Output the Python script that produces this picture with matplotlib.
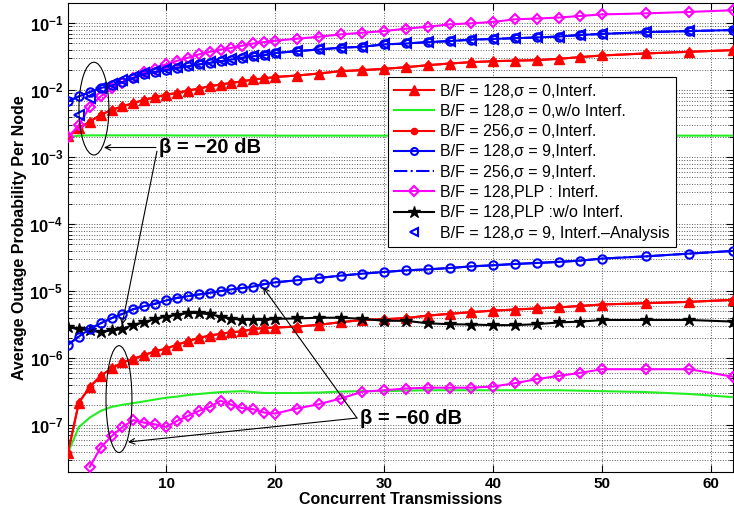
import matplotlib
matplotlib.use("Agg")
import numpy as np
import matplotlib.pyplot as plt
from matplotlib.lines import Line2D
from matplotlib.patches import Ellipse
from matplotlib.ticker import LogLocator, NullFormatter

plt.rcParams['font.family'] = ['Liberation Sans', 'DejaVu Sans']
plt.rcParams['mathtext.fontset'] = 'custom'
plt.rcParams['mathtext.rm'] = 'Liberation Sans'
plt.rcParams['mathtext.bf'] = 'Liberation Sans:bold'

# --- data ---
x = [1, 2, 3, 4, 5, 6, 7, 8, 9, 10, 11, 12, 13, 14, 15, 16, 17, 18, 19, 20,
     22, 24, 26, 28, 30, 32, 34, 36, 38, 40, 42, 44, 46, 48, 50, 54, 58, 62]

# beta = -20 dB group
red_hi = [2.04e-3, 2.7e-3, 3.4e-3, 4.3e-3, 5.1e-3, 5.75e-3, 6.45e-3, 7.2e-3, 7.85e-3, 8.6e-3,
          9.1e-3, 9.9e-3, 1.06e-2, 1.15e-2, 1.22e-2, 1.29e-2, 1.36e-2, 1.45e-2, 1.5e-2, 1.58e-2,
          1.66e-2, 1.78e-2, 1.93e-2, 2.0e-2, 2.09e-2, 2.21e-2, 2.37e-2, 2.51e-2, 2.63e-2, 2.72e-2,
          2.77e-2, 2.82e-2, 2.95e-2, 3.13e-2, 3.31e-2, 3.55e-2, 3.76e-2, 3.98e-2]
green_hi = [2.0e-3, 2.1e-3, 2.12e-3, 2.12e-3, 2.12e-3, 2.12e-3, 2.12e-3, 2.12e-3, 2.12e-3, 2.12e-3,
            2.11e-3, 2.11e-3, 2.11e-3, 2.11e-3, 2.11e-3, 2.11e-3, 2.11e-3, 2.11e-3, 2.11e-3, 2.1e-3,
            2.1e-3, 2.1e-3, 2.1e-3, 2.1e-3, 2.1e-3, 2.1e-3, 2.1e-3, 2.1e-3, 2.1e-3, 2.1e-3,
            2.1e-3, 2.1e-3, 2.1e-3, 2.1e-3, 2.1e-3, 2.1e-3, 2.1e-3, 2.1e-3]
blue_hi = [6.8e-3, 8.1e-3, 9.4e-3, 1.08e-2, 1.18e-2, 1.32e-2, 1.52e-2, 1.76e-2, 1.88e-2, 2.0e-2,
           2.16e-2, 2.29e-2, 2.43e-2, 2.57e-2, 2.72e-2, 2.88e-2, 3.06e-2, 3.23e-2, 3.35e-2, 3.6e-2,
           3.84e-2, 4.07e-2, 4.32e-2, 4.47e-2, 4.84e-2, 5.0e-2, 5.24e-2, 5.43e-2, 5.7e-2, 5.85e-2,
           6.0e-2, 6.15e-2, 6.35e-2, 6.7e-2, 6.95e-2, 7.4e-2, 7.67e-2, 7.94e-2]
plp_hi = [2.0e-3, 3.0e-3, 5.7e-3, 8.1e-3, 1.08e-2, 1.3e-2, 1.55e-2, 1.85e-2, 2.1e-2, 2.45e-2,
          2.75e-2, 3.06e-2, 3.43e-2, 3.75e-2, 4.05e-2, 4.3e-2, 4.65e-2, 5.0e-2, 5.25e-2, 5.5e-2,
          5.89e-2, 6.3e-2, 6.84e-2, 7.24e-2, 7.67e-2, 8.32e-2, 8.9e-2, 9.66e-2, 0.1, 0.105,
          0.115, 0.118, 0.122, 0.129, 0.136, 0.141, 0.148, 0.157]
x_ana = x[1:]
ana_hi = [4.2e-3, 7.7e-3, 1.08e-2, 1.25e-2, 1.4e-2, 1.6e-2, 1.8e-2, 1.95e-2, 2.1e-2,
          2.22e-2, 2.36e-2, 2.5e-2, 2.65e-2, 2.8e-2, 2.95e-2, 3.1e-2, 3.25e-2, 3.4e-2, 3.6e-2,
          3.85e-2, 4.1e-2, 4.35e-2, 4.5e-2, 4.85e-2, 5.0e-2, 5.25e-2, 5.45e-2, 5.7e-2, 5.85e-2,
          6.0e-2, 6.15e-2, 6.35e-2, 6.7e-2, 6.95e-2, 7.35e-2, 7.65e-2, 7.9e-2]

# beta = -60 dB group
red_lo = [3.85e-8, 2.16e-7, 3.7e-7, 5.4e-7, 7.0e-7, 8.6e-7, 9.7e-7, 1.11e-6, 1.26e-6, 1.38e-6,
          1.58e-6, 1.78e-6, 2.0e-6, 2.16e-6, 2.3e-6, 2.43e-6, 2.5e-6, 2.72e-6, 2.8e-6, 2.85e-6,
          2.95e-6, 3.13e-6, 3.43e-6, 3.7e-6, 3.8e-6, 3.95e-6, 4.3e-6, 4.57e-6, 4.84e-6, 5.1e-6,
          5.3e-6, 5.5e-6, 5.7e-6, 6.0e-6, 6.3e-6, 6.6e-6, 6.9e-6, 7.4e-6]
green_lo = [3.85e-8, 9.3e-8, 1.29e-7, 1.62e-7, 1.86e-7, 2.0e-7, 2.12e-7, 2.25e-7, 2.4e-7, 2.55e-7,
            2.65e-7, 2.8e-7, 2.9e-7, 3.0e-7, 3.1e-7, 3.15e-7, 3.2e-7, 3.1e-7, 3.0e-7, 3.0e-7,
            3.0e-7, 3.05e-7, 3.15e-7, 3.2e-7, 3.2e-7, 3.25e-7, 3.3e-7, 3.3e-7, 3.3e-7, 3.3e-7,
            3.3e-7, 3.3e-7, 3.3e-7, 3.25e-7, 3.2e-7, 3.1e-7, 2.9e-7, 2.6e-7]
blue_lo = [1.58e-6, 2.09e-6, 2.72e-6, 3.3e-6, 3.94e-6, 4.57e-6, 5.37e-6, 5.96e-6, 6.46e-6, 7.24e-6,
           7.9e-6, 8.4e-6, 8.9e-6, 9.4e-6, 1.0e-5, 1.06e-5, 1.11e-5, 1.17e-5, 1.27e-5, 1.35e-5,
           1.45e-5, 1.57e-5, 1.7e-5, 1.82e-5, 1.93e-5, 2.04e-5, 2.11e-5, 2.21e-5, 2.34e-5, 2.43e-5,
           2.54e-5, 2.63e-5, 2.73e-5, 2.85e-5, 3.06e-5, 3.3e-5, 3.63e-5, 3.98e-5]
x_plp_lo = x[2:]
plp_lo = [2.37e-8, 4.6e-8, 6.8e-8, 9.3e-8, 1.18e-7, 1.08e-7, 1.02e-7, 9.3e-8,
          1.15e-7, 1.36e-7, 1.62e-7, 1.86e-7, 2.3e-7, 2.0e-7, 1.78e-7, 1.72e-7, 1.53e-7, 1.48e-7,
          1.76e-7, 2.04e-7, 2.48e-7, 3.13e-7, 3.3e-7, 3.5e-7, 3.6e-7, 3.6e-7, 3.6e-7, 3.75e-7,
          4.2e-7, 4.84e-7, 5.4e-7, 6.0e-7, 6.8e-7, 6.8e-7, 6.8e-7, 5.25e-7]
plp_nointf_lo = [2.88e-6, 2.7e-6, 2.6e-6, 2.43e-6, 2.6e-6, 2.7e-6, 3.16e-6, 3.4e-6, 3.85e-6, 4.17e-6,
                 4.4e-6, 4.7e-6, 4.7e-6, 4.5e-6, 4.17e-6, 3.85e-6, 3.75e-6, 3.7e-6, 3.7e-6, 3.85e-6,
                 3.9e-6, 4.0e-6, 4.0e-6, 3.85e-6, 3.6e-6, 3.6e-6, 3.3e-6, 3.2e-6, 3.16e-6, 3.1e-6,
                 3.1e-6, 3.2e-6, 3.4e-6, 3.5e-6, 3.7e-6, 3.7e-6, 3.7e-6, 3.5e-6]

labels = ['B/F = 128,σ = 0,Interf.', 'B/F = 128,σ = 0,w/o Interf.', 'B/F = 256,σ = 0,Interf.',
          'B/F = 128,σ = 9,Interf.', 'B/F = 256,σ = 9,Interf.', 'B/F = 128,PLP : Interf.',
          'B/F = 128,PLP :w/o Interf.', 'B/F = 128,σ = 9, Interf.\u2013Analysis']

GREEN = '#22ee22'

fig = plt.figure(figsize=(7.34, 5.16), dpi=100)
ax = fig.add_axes([0.0926, 0.0858, 0.906, 0.908])

lw = 1.5
for red, green, blue in [(red_hi, green_hi, blue_hi), (red_lo, green_lo, blue_lo)]:
    ax.plot(x, red, color='red', lw=lw, marker='o', ms=4.5, mfc='red', zorder=2)
    ax.plot(x, blue, color='blue', lw=lw, ls='-.', zorder=2)
    ax.plot(x, green, color=GREEN, lw=lw, zorder=3)
    ax.plot(x, red, color='red', lw=lw, marker='^', ms=7, mfc='red', zorder=4)
    ax.plot(x, blue, color='blue', lw=lw, marker='o', ms=6, mfc='none', mew=1.5, zorder=5)

ax.plot(x, plp_hi, color='magenta', lw=lw, marker='D', ms=5.5, mfc='none', mew=1.5, zorder=4)
ax.plot(x_plp_lo, plp_lo, color='magenta', lw=lw, marker='D', ms=5.5, mfc='none', mew=1.5, zorder=4)
ax.plot(x, plp_nointf_lo, color='black', lw=lw, marker='*', ms=9, mfc='black', zorder=4)
ax.plot(x_ana, ana_hi, ls='none', color='blue', marker='<', ms=7, mfc='none', mew=1.5, zorder=6)

ax.set_yscale('log')
ax.set_xlim(1, 62)
ax.set_ylim(2e-8, 0.2)
ax.set_xticks([10, 20, 30, 40, 50, 60])
ax.set_xticklabels(['10', '20', '30', '40', '50', '60'], fontweight='bold', fontsize=11)
decades = [1e-7, 1e-6, 1e-5, 1e-4, 1e-3, 1e-2, 1e-1]
ax.set_yticks(decades)
ax.set_yticklabels([r'$\mathbf{10^{%d}}$' % int(np.log10(d)) for d in decades], fontsize=12)
ax.yaxis.set_minor_locator(LogLocator(base=10, subs=np.arange(2, 10)))
ax.yaxis.set_minor_formatter(NullFormatter())
ax.tick_params(which='both', direction='in', top=True, right=True)
ax.tick_params(which='major', length=5)
ax.tick_params(which='minor', length=3)
ax.grid(True, which='major', ls=':', color='0.35', lw=0.7)
ax.grid(True, which='minor', axis='y', ls=':', color='0.35', lw=0.7)
ax.set_axisbelow(True)

ax.set_xlabel('Concurrent Transmissions', fontweight='bold', fontsize=11.5, labelpad=1)
ax.set_ylabel('Average Outage Probability Per Node', fontweight='bold', fontsize=11.5, labelpad=2)

# legend
handles = [
    Line2D([], [], color='red', lw=lw, marker='^', ms=7),
    Line2D([], [], color=GREEN, lw=lw),
    Line2D([], [], color='red', lw=lw, marker='o', ms=4.5),
    Line2D([], [], color='blue', lw=lw, marker='o', ms=5, mfc='none', mew=1.5),
    Line2D([], [], color='blue', lw=lw, ls='-.'),
    Line2D([], [], color='magenta', lw=lw, marker='D', ms=5, mfc='none', mew=1.5),
    Line2D([], [], color='black', lw=lw, marker='*', ms=9),
    Line2D([], [], color='blue', ls='none', marker='<', ms=6, mfc='none', mew=1.5),
]
leg = ax.legend(handles, labels, loc='upper left', bbox_to_anchor=(0.481, 0.842),
                borderaxespad=0, fancybox=False, framealpha=1, edgecolor='black',
                fontsize=11.5, handlelength=2.5, handletextpad=0.35, labelspacing=0.33,
                borderpad=0.4)
leg.get_frame().set_linewidth(0.8)

# annotations (axes fraction)
ax.add_patch(Ellipse((0.039, 0.775), 0.045, 0.198, transform=ax.transAxes,
                     fill=False, ec='black', lw=0.8, zorder=7))
ax.add_patch(Ellipse((0.0767, 0.155), 0.039, 0.228, transform=ax.transAxes,
                     fill=False, ec='black', lw=0.8, zorder=7))
arrow = dict(arrowstyle='->', color='black', lw=0.8, shrinkA=0, shrinkB=0)
ax.text(0.137, 0.692, 'β = \u221220 dB', transform=ax.transAxes, fontsize=14.5,
        fontweight='bold', ha='left', va='center', zorder=8)
ax.annotate('', xy=(0.0541, 0.692), xytext=(0.1323, 0.692), xycoords='axes fraction',
            arrowprops=arrow, zorder=8)
ax.annotate('', xy=(0.0812, 0.313), xytext=(0.1338, 0.684), xycoords='axes fraction',
            arrowprops=arrow, zorder=8)
ax.text(0.439, 0.1146, 'β = \u221260 dB', transform=ax.transAxes, fontsize=14.5,
        fontweight='bold', ha='left', va='center', zorder=8)
ax.annotate('', xy=(0.0902, 0.0634), xytext=(0.4346, 0.1146), xycoords='axes fraction',
            arrowprops=arrow, zorder=8)
ax.annotate('', xy=(0.2932, 0.394), xytext=(0.4346, 0.1146), xycoords='axes fraction',
            arrowprops=arrow, zorder=8)

fig.savefig('out.png', dpi=100)
